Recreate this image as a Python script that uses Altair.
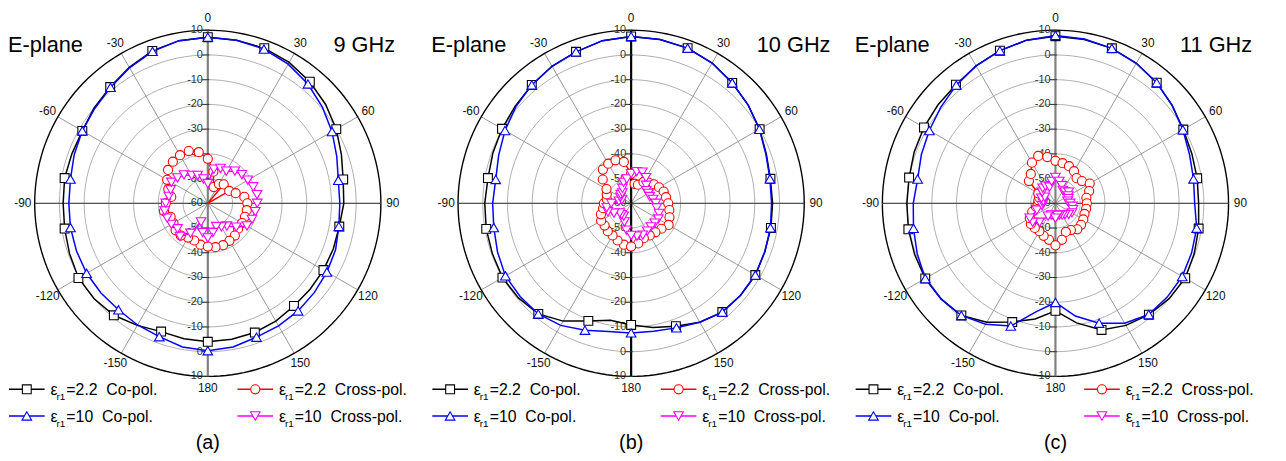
import altair as alt
import pandas as pd

# ---------------- data ----------------
ANGLES = list(range(-180, 181, 10))  # degrees, 0 = top, clockwise positive

# panel (a) 9 GHz
A_CO22 = [-4, -4.4, -4.8, -3, -0.9, 0, 0.4, -0.5, -1.2, -1.5, -1.2, -1.5, -1.4, 0, 1.4, 3.5, 5.6, 6.8,
          7.2, 7.0, 6.8, 5.8, 4.2, 2.2, 0, -2.5, -4.4, -5.0, -6, -6, -6, -6, -5.8, -5, -4.4, -4.2, -4]
A_CO10 = [-0.4, -1, -2.6, -3.2, -3.8, -3.6, -3.4, -3.5, -3.6, -3.8, -3.6, -2.5, -1.4, -0.3, 1.2, 3.3, 5.4, 6.8,
          7.2, 7, 6.4, 5, 3, 0.5, -2, -4.5, -6.4, -6.6, -6.2, -5, -4.4, -3.8, -3.2, -2.8, -2.4, -1, -0.4]
A_X22 = [-42.5, -43, -44, -44, -43, -43, -44, -44, -42, -43, -45, -43, -41, -39, -38, -37.5, -37.5, -39,
         -42, -47, -53, -51, -50, -60, -50, -48, -45, -44, -44, -44, -44, -44, -43, -42.5, -42, -42, -42.5]
A_X10 = [-46, -48, -52, -46, -42.5, -44, -43, -42.5, -42.3, -43, -44, -44, -43, -44, -45, -47, -48, -50,
         -52, -46, -45, -45, -43, -42, -41.3, -40.5, -39.8, -40, -40.5, -41, -41.7, -45, -48, -49, -50, -48, -46]

# panel (b) 10 GHz
B_CO22 = [-10.8, -12, -9.4, -5, -1.6, -0.5, 0.1, -0.3, -0.5, -0.8, -1.2, -0.5, 0.3, 1.2, 2.5, 4, 5.2, 6.8,
          7.5, 7.3, 6.8, 5.5, 3.6, 1.8, 0, -1.8, -2.8, -2.8, -2.6, -2.5, -2, -2.2, -2.6, -4.5, -7.1, -9, -10.8]
B_CO10 = [-7.6, -7.4, -5.4, -3, -1.6, -1.4, -1.3, -2.5, -3.6, -4, -4.4, -3, -1.1, 0.8, 2.5, 4, 5.2, 6.8,
          7.5, 7.3, 6.8, 5.5, 3.6, 1.8, -0.1, -2, -3, -3.2, -2.8, -2.5, -2, -2.2, -2.6, -4.5, -6.4, -7.5, -7.6]
B_X22 = [-42.5, -43, -44, -45, -45.3, -46, -46, -47, -48.5, -49, -50, -49.5, -48.5, -45, -42.2, -41.5, -41.5, -43,
         -48, -52, -52, -50, -49, -48, -47, -46, -45.7, -45, -44.3, -43.5, -42.5, -44, -44.7, -45, -45, -43.5, -42.5]
B_X10 = [-47, -49, -52, -54, -54, -54, -52, -50, -50, -52, -55, -56, -55, -54.5, -54.5, -53, -51, -50,
         -48, -47, -46.6, -48, -50.5, -52, -52, -52, -51, -50, -49.5, -48, -47.3, -47.5, -47.5, -47, -46.3, -46.5, -47]

# panel (c) 11 GHz
C_CO22 = [-16.5, -12.5, -8.9, -4.5, -0.8, 0.3, 0.8, 0.6, 0.4, 0.1, 0.1, 0.8, 1.4, 2, 2.6, 4.2, 5.7, 7,
          7.6, 7.3, 6.7, 5.4, 3.7, 1.6, -0.3, -1.3, -1.8, -2.1, -1.2, -0.3, 0.6, 0, -1.2, -3, -5.5, -10.9, -16.5]
C_CO10 = [-19.9, -15.5, -7.2, -3.5, -0.8, 0.3, 0.8, -0.5, -1.7, -2.5, -3.4, -2.3, -1.1, 0.5, 2.4, 4.2, 5.7, 7,
          7.9, 7.5, 6.7, 5.4, 3.7, 1.6, -0.5, -2.3, -3.3, -3.7, -2, -1.4, -0.8, -1, -1.3, -4, -8.4, -13.7, -19.9]
C_X22 = [-43, -45, -46, -47, -47, -47, -48, -50, -52, -53, -53, -53, -52, -46, -44.5, -41, -39.6, -41,
         -42.8, -43.5, -44, -45, -46.7, -46, -44, -45.5, -47.3, -47.3, -47.4, -47.5, -47, -46.5, -46.3, -47.5, -47.7, -45, -43]
C_X10 = [-54, -55, -55, -54, -50, -48, -48, -52, -54.5, -55, -55, -54, -55, -53, -52, -52, -53, -51,
         -49.5, -51, -52.4, -54, -54, -53, -54, -54.5, -55, -54, -53, -52.5, -52.3, -53, -54, -54.5, -55, -55, -54]

PANELS = [
    {"freq": "9 GHz", "caption": "(a)", "series": [A_CO22, A_CO10, A_X22, A_X10]},
    {"freq": "10 GHz", "caption": "(b)", "series": [B_CO22, B_CO10, B_X22, B_X10]},
    {"freq": "11 GHz", "caption": "(c)", "series": [C_CO22, C_CO10, C_X22, C_X10]},
]

SERIES_EPS = ["2.2", "10", "2.2", "10"]
SERIES_POL = ["Co-pol.", "Co-pol.", "Cross-pol.", "Cross-pol."]

R_MIN = -60
RING_LEVELS = [-50, -40, -30, -20, -10, 0]
OUTER_LEVEL = 10
SPOKE_ANGLES = [0, 30, 60, 90, 120, 150, 180, -150, -120, -90, -60, -30]
RADIAL_TOP = [10, 0, -10, -20, -30, -40, -50]
RADIAL_BOTTOM = [-50, -40, -30, -20, -10, 0, 10]

# ---------------- styles ----------------
COLORS = ["#000000", "#0000ff", "#ff0000", "#ff00ff"]
SHAPES = ["square", "triangle-up", "circle", "triangle-down"]
SIZES = [80, 95, 85, 95]
FONT = "Liberation Sans"
PX_PER_UNIT = 2.5
PANEL_W, PANEL_H = 428, 450
CENTERS = [(202, 195), (202, 195), (203, 195)]
AXIS_COLORS = ["#808080", "#000000", "#808080"]


def polar(ch, field="db"):
    return ch.transform_calculate(
        r=f"max(datum.{field} - ({R_MIN}), 0)"
    ).transform_calculate(
        x="datum.r * sin(datum.angle * PI / 180)",
        y="datum.r * cos(datum.angle * PI / 180)",
    )


def make_panel(i, p):
    cx, cy = CENTERS[i]
    xs = alt.Scale(domain=[-cx / PX_PER_UNIT, (PANEL_W - cx) / PX_PER_UNIT], nice=False, zero=False)
    ys = alt.Scale(domain=[-(PANEL_H - cy) / PX_PER_UNIT, cy / PX_PER_UNIT], nice=False, zero=False)
    X = alt.X("x:Q", scale=xs, axis=None)
    Y = alt.Y("y:Q", scale=ys, axis=None)

    layers = []

    # rings
    ring_rows = [{"db": lv, "angle": a} for lv in RING_LEVELS for a in range(0, 361, 3)]
    rings = polar(alt.Chart(pd.DataFrame(ring_rows))).mark_line(
        color="#a6a6a6", strokeWidth=0.9).encode(x=X, y=Y, detail="db:N", order="angle:Q")
    layers.append(rings)

    # spokes
    sp = pd.DataFrame({"angle": SPOKE_ANGLES})
    spokes = alt.Chart(sp).transform_calculate(
        x="0", y="0",
        x2=f"{OUTER_LEVEL - R_MIN} * sin(datum.angle * PI / 180)",
        y2=f"{OUTER_LEVEL - R_MIN} * cos(datum.angle * PI / 180)",
    ).mark_rule(color="#8c8c8c", strokeWidth=0.9).encode(x=X, y=Y, x2="x2:Q", y2="y2:Q")
    layers.append(spokes)

    # outer ring
    outer_rows = [{"db": OUTER_LEVEL, "angle": a} for a in range(0, 361, 2)]
    outer = polar(alt.Chart(pd.DataFrame(outer_rows))).mark_line(
        color="#000000", strokeWidth=1.4).encode(x=X, y=Y, order="angle:Q")
    layers.append(outer)

    # horizontal axis (-90 .. 90)
    hax = alt.Chart(pd.DataFrame({"angle": [90]})).transform_calculate(
        x=f"-{OUTER_LEVEL - R_MIN}", x2=f"{OUTER_LEVEL - R_MIN}", y="0"
    ).mark_rule(color="#404040", strokeWidth=1).encode(x=X, y=Y, x2="x2:Q")
    layers.append(hax)

    # vertical axis (0 .. 180)
    vax = alt.Chart(pd.DataFrame({"angle": [0]})).transform_calculate(
        y=f"-{OUTER_LEVEL - R_MIN}", y2=f"{OUTER_LEVEL - R_MIN}", x="0"
    ).mark_rule(color=AXIS_COLORS[i], strokeWidth=2.2).encode(x=X, y=Y, y2="y2:Q")
    layers.append(vax)

    # radial tick labels
    rt = pd.DataFrame({"lv": RADIAL_TOP + [R_MIN] + RADIAL_BOTTOM,
                       "side": [1] * len(RADIAL_TOP) + [0] + [-1] * len(RADIAL_BOTTOM)})
    rt["label"] = rt["lv"].astype(str)
    rbase = alt.Chart(rt).transform_calculate(
        y=f"datum.side * (datum.lv - ({R_MIN}))", x="0", xa="-2.4", xb="0.6")
    ticks = rbase.mark_rule(color="#333333", strokeWidth=1).encode(x=alt.X("xa:Q", scale=xs, axis=None), x2="xb:Q", y=Y)
    tlabels = rbase.mark_text(align="right", baseline="middle", dx=-5, fontSize=11, font=FONT,
                              color="#333333").encode(x=X, y=Y, text="label:N")
    layers += [ticks, tlabels]

    # angular labels
    al = pd.DataFrame({"angle": SPOKE_ANGLES, "label": [str(a) for a in SPOKE_ANGLES]})
    alab = alt.Chart(al).transform_calculate(
        x="74.8 * sin(datum.angle * PI / 180)", y="74.8 * cos(datum.angle * PI / 180)"
    ).mark_text(align="center", baseline="middle", fontSize=12, font=FONT, color="#111111").encode(
        x=X, y=Y, text="label:N")
    layers.append(alab)

    # data series
    for s, vals in enumerate(p["series"]):
        df = pd.DataFrame({"angle": ANGLES, "db": vals, "idx": list(range(len(ANGLES)))})
        base = polar(alt.Chart(df))
        line = base.mark_line(color=COLORS[s], strokeWidth=1.5).encode(x=X, y=Y, order="idx:Q")
        if s < 2:
            mflt = "datum.angle % 20 == 0 && datum.angle > -180"
        else:
            mflt = "datum.angle > -180 && datum.db > -59"
        pts = base.transform_filter(mflt).mark_point(
            shape=SHAPES[s], size=SIZES[s], filled=True, fill="white", stroke=COLORS[s],
            strokeWidth=1.1, opacity=1).encode(x=X, y=Y)
        layers += [line, pts]

    # titles
    one = pd.DataFrame({"t": [0]})
    layers.append(alt.Chart(one).mark_text(align="left", baseline="alphabetic", fontSize=22, font=FONT,
                                           color="black", text="E-plane").encode(x=alt.value(0), y=alt.value(42)))
    layers.append(alt.Chart(one).mark_text(align="left", baseline="alphabetic", fontSize=22, font=FONT,
                                           color="black", text=p["freq"]).encode(x=alt.value(329), y=alt.value(42)))
    layers.append(alt.Chart(one).mark_text(align="center", baseline="middle", fontSize=20, font=FONT,
                                           color="black", text=p["caption"]).encode(x=alt.value(cx), y=alt.value(437)))

    # legend (2 x 2)
    legend_pos = [(0, 0), (0, 1), (1, 0), (1, 1)]  # (column, row) per series
    col_x = [1, 232]
    row_y = [383, 410]
    for s in range(4):
        c, r = legend_pos[s]
        x0 = col_x[c]
        y0 = row_y[r]
        layers.append(alt.Chart(one).mark_rule(color=COLORS[s], strokeWidth=1.5).encode(
            x=alt.value(x0), x2=alt.value(x0 + 36), y=alt.value(y0)))
        layers.append(alt.Chart(one).mark_point(shape=SHAPES[s], size=SIZES[s], filled=True, fill="white",
                                                stroke=COLORS[s], strokeWidth=1.1, opacity=1).encode(
            x=alt.value(x0 + 18), y=alt.value(y0)))
        layers.append(alt.Chart(one).mark_text(align="left", baseline="middle", fontSize=16, font=FONT,
                                               color="black", text="ε").encode(
            x=alt.value(x0 + 42), y=alt.value(y0 + 1)))
        layers.append(alt.Chart(one).mark_text(align="left", baseline="middle", fontSize=10, font=FONT,
                                               color="black", text="r1").encode(
            x=alt.value(x0 + 48), y=alt.value(y0 + 8)))
        layers.append(alt.Chart(one).mark_text(align="left", baseline="middle", fontSize=16, font=FONT,
                                               color="black",
                                               text="=" + SERIES_EPS[s] + "\u00a0 " + SERIES_POL[s]).encode(
            x=alt.value(x0 + 58), y=alt.value(y0 + 1)))

    return alt.layer(*layers).properties(width=PANEL_W, height=PANEL_H)


panels = [make_panel(i, p) for i, p in enumerate(PANELS)]
chart = alt.hconcat(*panels, spacing=0, bounds="flush").properties(
    padding=0
).configure_view(stroke=None).resolve_scale(x="independent", y="independent")

chart.save("out.html", embed_options={"renderer": "svg", "actions": False})
